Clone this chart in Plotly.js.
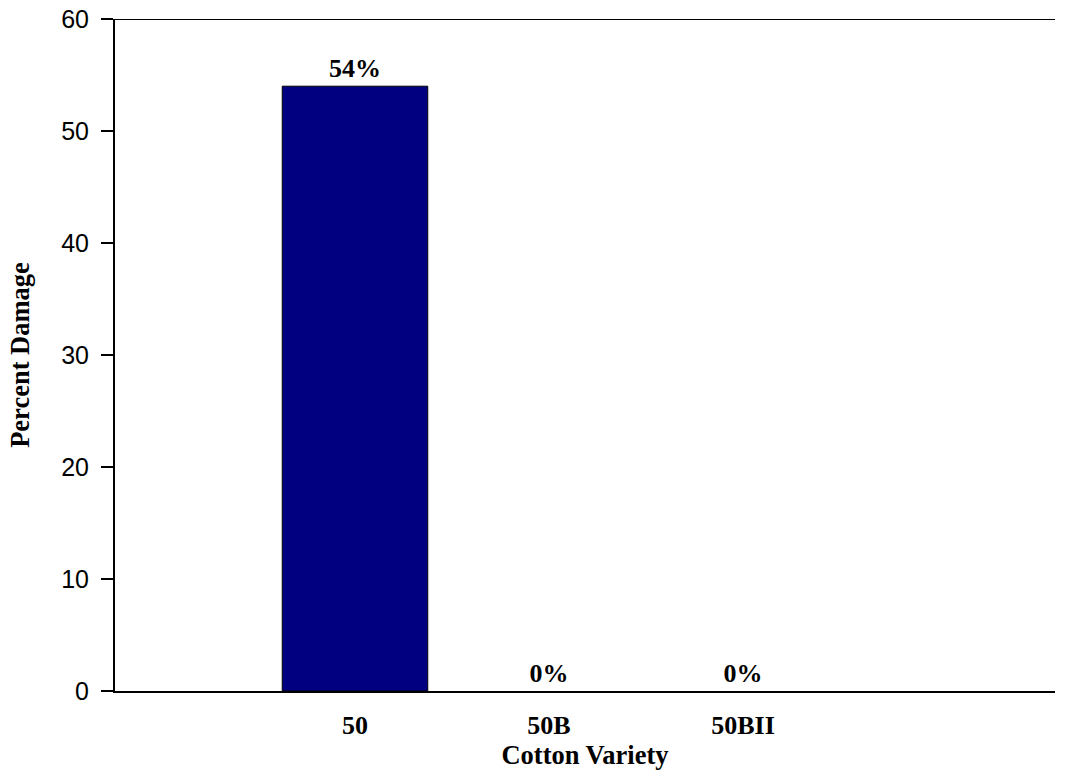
<!DOCTYPE html>
<html>
<head>
<meta charset="utf-8">
<script src="https://cdn.plot.ly/plotly-3.0.1.min.js"></script>
<style>
  html, body { margin: 0; padding: 0; background: #fff; }
  #chart { width: 1069px; height: 772px; }
</style>
</head>
<body>
<div id="chart"></div>
<script>
// Data
const categories = ["50", "50B", "50BII"];
const percentDamage = [54, 0, 0];
const valueLabels = ["54%", "0%", "0%"];
const yTickValues = [0, 10, 20, 30, 40, 50, 60];

const serifBold = "'Liberation Serif', 'Times New Roman', serif";
const sans = "'Liberation Sans', Arial, sans-serif";

const trace = {
  type: "bar",
  x: categories,
  y: percentDamage,
  text: valueLabels,
  textposition: "outside",
  textfont: { family: serifBold, size: 26, color: "#000", weight: "bold" },
  marker: { color: "#000080", line: { color: "#000", width: percentDamage.map(v => v > 0 ? 1 : 0) } },
  width: 0.75,
  cliponaxis: false,
  hoverinfo: "x+y"
};

const layout = {
  width: 1069,
  height: 772,
  margin: { l: 115, r: 14, t: 19, b: 81 },
  paper_bgcolor: "#fff",
  plot_bgcolor: "#fff",
  showlegend: false,
  xaxis: {
    type: "category",
    range: [-1.237, 3.608],
    showline: true,
    linecolor: "#000",
    linewidth: 2,
    ticks: "",
    ticklabelstandoff: 10,
    showgrid: false,
    zeroline: false,
    tickfont: { family: serifBold, size: 26, color: "#000", weight: "bold" },
    title: { text: "<b>Cotton Variety</b>", font: { family: serifBold, size: 26.5, color: "#000" }, standoff: 6 }
  },
  yaxis: {
    range: [0, 60],
    tickvals: yTickValues,
    showline: true,
    linecolor: "#000",
    linewidth: 2,
    ticks: "outside",
    ticklen: 12,
    tickwidth: 2,
    tickcolor: "#000",
    ticklabelstandoff: 7,
    showgrid: false,
    zeroline: false,
    tickfont: { family: sans, size: 25, color: "#000" },
    title: { text: "<b>Percent Damage</b>", font: { family: serifBold, size: 26.5, color: "#000" }, standoff: 24 }
  },
  shapes: [
    { type: "line", xref: "paper", yref: "y", x0: 0, x1: 1, y0: 60, y1: 60, line: { color: "#000", width: 2 } }
  ]
};

Plotly.newPlot("chart", [trace], layout, { staticPlot: true, displayModeBar: false });
</script>
</body>
</html>
